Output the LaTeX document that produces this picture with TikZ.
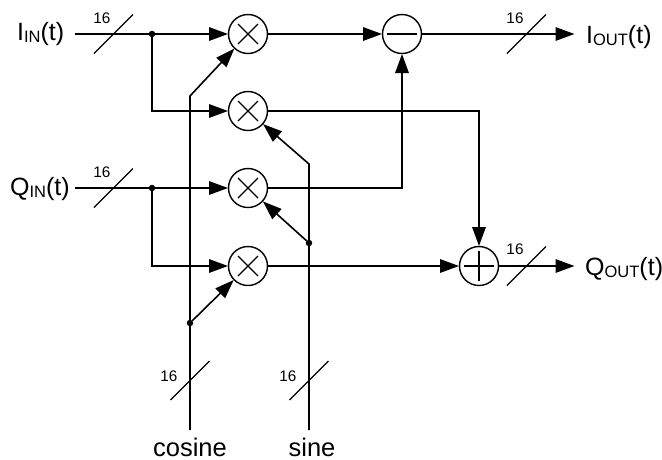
\documentclass[tikz,border=0pt]{standalone}
\usepackage{fontspec}
\setmainfont{Liberation Sans}
\usetikzlibrary{arrows.meta,calc}
\newcommand{\biglabel}[2]{\fontsize{25}{27}\selectfont #1\raisebox{-2.5pt}{\fontsize{16.5}{18}\selectfont #2}(t)}
\tikzset{
  x=1pt,y=-1pt,
  wire/.style={line width=1.6pt},
  arrowwire/.style={wire,-{Triangle[length=19pt,width=13.5pt]},shorten >=0.5pt},
  opnode/.style={circle,draw,line width=1.4pt,minimum size=39pt,inner sep=0pt,outer sep=0pt},
  slashline/.style={line width=1.3pt},
  symbolline/.style={line width=1.3pt},
  dotnode/.style={circle,fill=black,minimum size=6.5pt,inner sep=0pt,outer sep=0pt},
  buslabel/.style={font=\fontsize{15.3}{17}\selectfont,inner sep=0pt,anchor=base},
  biglabelnode/.style={inner sep=0pt,anchor=base west},
  endlabel/.style={font=\fontsize{25.5}{28}\selectfont,inner sep=0pt,anchor=base},
}
\begin{document}
\begin{tikzpicture}
\useasboundingbox (0,0) rectangle (662,459);
% operators
\node[opnode] (m1) at (248,34) {};
\node[opnode] (m2) at (248,111) {};
\node[opnode] (m3) at (248,188) {};
\node[opnode] (m4) at (248,266) {};
\node[opnode] (sub) at (402,34) {};
\node[opnode] (add) at (479,266) {};
\foreach \n in {m1,m2,m3,m4}{
  \draw[symbolline] ($(\n)+(-10,-10)$) -- ($(\n)+(10,10)$);
  \draw[symbolline] ($(\n)+(-10,10)$) -- ($(\n)+(10,-10)$);
}
\draw[symbolline] ($(sub)+(-15,0)$) -- ($(sub)+(15,0)$);
\draw[symbolline] ($(add)+(-15,0)$) -- ($(add)+(15,0)$);
\draw[symbolline] ($(add)+(0,-15)$) -- ($(add)+(0,15)$);
% free ends and junctions
\coordinate (iin) at (75,34);
\coordinate (qin) at (75,188);
\coordinate (iout) at (575,34);
\coordinate (qout) at (575,266);
\coordinate (cosb) at (190,430);
\coordinate (sinb) at (309,430);
\coordinate (cosk) at (190,96);
\coordinate (sink) at (309,164);
\node[dotnode] (ji) at (152,34) {};
\node[dotnode] (jq) at (152,188) {};
\node[dotnode] (jc) at (190,323) {};
\node[dotnode] (js) at (309,243) {};
% wires
\draw[wire] (iin) -- (ji);
\draw[wire] (qin) -- (jq);
\draw[arrowwire] (ji) -- (m1);
\draw[arrowwire] (ji) |- (m2);
\draw[arrowwire] (jq) -- (m3);
\draw[arrowwire] (jq) |- (m4);
\draw[arrowwire] (cosb) -- (cosk) -- (m1);
\draw[arrowwire] (jc) -- (m4);
\draw[arrowwire] (sinb) -- (sink) -- (m2);
\draw[arrowwire] (js) -- (m3);
\draw[arrowwire] (m1) -- (sub);
\draw[arrowwire] (m2) -| (add);
\draw[arrowwire] (m3) -| (sub);
\draw[arrowwire] (m4) -- (add);
\draw[arrowwire] (sub) -- (iout);
\draw[arrowwire] (add) -- (qout);
% bus slashes
\foreach \x/\y in {113.5/34,113.5/188,526.5/34,526.5/266,190/380.5,309/380.5}{
  \draw[slashline] (\x-19.5,\y+19.5) -- (\x+19.5,\y-19.5);
}
\node[buslabel] (l1) at (102,23) {16};
\node[buslabel] (l2) at (102,177) {16};
\node[buslabel] (l3) at (515,23) {16};
\node[buslabel] (l4) at (515,254) {16};
\node[buslabel] (l5) at (169,381) {16};
\node[buslabel] (l6) at (288,381) {16};
% labels
\node[biglabelnode] (tiin) at (17,40) {\biglabel{I}{IN}};
\node[biglabelnode] (tqin) at (10,195) {\biglabel{Q}{IN}};
\node[biglabelnode] (tiout) at (586,43) {\biglabel{I}{OUT}};
\node[biglabelnode] (tqout) at (585,275) {\biglabel{Q}{OUT}};
\node[endlabel] (tc) at (190,456) {cosine};
\node[endlabel] (ts) at (312,456) {sine};
\end{tikzpicture}
\end{document}
